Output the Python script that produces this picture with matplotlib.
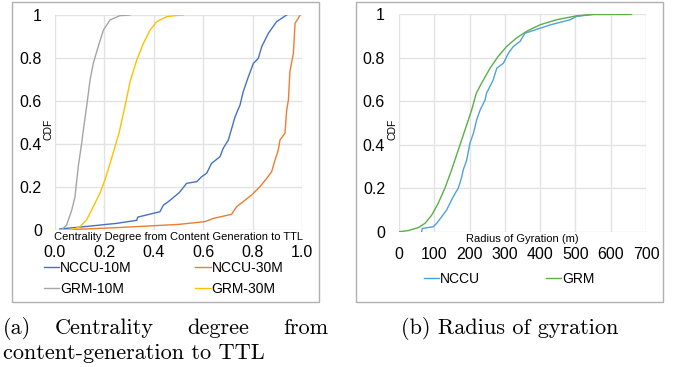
import matplotlib
matplotlib.use("Agg")
import matplotlib.pyplot as plt
from matplotlib.patches import Rectangle

plt.rcParams['font.family'] = ['Liberation Sans', 'DejaVu Sans']

# (a) centrality degree CDFs
nccu10_x = [0.02, 0.115, 0.25, 0.331, 0.335, 0.425, 0.439, 0.459, 0.5, 0.506, 0.533, 0.574, 0.594,
            0.614, 0.634, 0.668, 0.681, 0.702, 0.711, 0.729, 0.749, 0.762, 0.783, 0.803, 0.823,
            0.837, 0.864, 0.897, 0.938]
nccu10_y = [0.005, 0.015, 0.031, 0.045, 0.06, 0.085, 0.116, 0.132, 0.171, 0.178, 0.217, 0.225, 0.248,
            0.264, 0.31, 0.341, 0.38, 0.419, 0.455, 0.527, 0.581, 0.643, 0.713, 0.775, 0.798,
            0.853, 0.915, 0.969, 1.0]
nccu30_x = [0.02, 0.25, 0.5, 0.607, 0.641, 0.715, 0.735, 0.762, 0.796, 0.83, 0.857, 0.877, 0.891,
            0.904, 0.911, 0.931, 0.938, 0.945, 0.951, 0.965, 0.972, 0.985, 0.992]
nccu30_y = [0, 0.011, 0.026, 0.039, 0.054, 0.073, 0.108, 0.132, 0.163, 0.202, 0.24, 0.271, 0.326,
            0.372, 0.419, 0.45, 0.558, 0.605, 0.736, 0.822, 0.962, 0.985, 1.0]
grm10_x = [0.02, 0.027, 0.047, 0.068, 0.081, 0.094, 0.108, 0.113, 0.128, 0.142, 0.155, 0.175, 0.196,
           0.223, 0.263, 0.304]
grm10_y = [0, 0.002, 0.023, 0.093, 0.155, 0.294, 0.403, 0.45, 0.574, 0.698, 0.775, 0.853, 0.93,
           0.977, 0.997, 1.0]
grm30_x = [0.02, 0.06, 0.081, 0.101, 0.128, 0.155, 0.182, 0.202, 0.223, 0.243, 0.26, 0.283, 0.304,
           0.331, 0.358, 0.385, 0.412, 0.452, 0.5, 0.52]
grm30_y = [0, 0.002, 0.006, 0.015, 0.047, 0.108, 0.171, 0.233, 0.31, 0.388, 0.455, 0.574, 0.69,
           0.791, 0.868, 0.93, 0.969, 0.992, 0.999, 1.0]

# (b) radius of gyration CDFs
nccu_x = [64, 66, 97, 107, 121, 135, 149, 159, 168, 178, 182, 192, 201, 211, 220, 230, 244, 248,
          267, 277, 296, 310, 324, 343, 357, 400, 428, 485, 503, 550]
nccu_y = [0, 0.015, 0.023, 0.039, 0.069, 0.1, 0.146, 0.176, 0.2, 0.253, 0.284, 0.33, 0.407, 0.453,
          0.514, 0.56, 0.606, 0.637, 0.698, 0.752, 0.775, 0.821, 0.852, 0.875, 0.913, 0.936, 0.951,
          0.975, 0.99, 1.0]
grm_x = [0, 26, 55, 74, 93, 111, 130, 149, 168, 187, 206, 219, 234, 258, 281, 305, 333, 362, 400,
         447, 503, 550, 659]
grm_y = [0, 0.005, 0.019, 0.039, 0.077, 0.13, 0.2, 0.284, 0.376, 0.468, 0.56, 0.637, 0.683, 0.752,
         0.806, 0.852, 0.891, 0.922, 0.952, 0.975, 0.993, 0.999, 1.0]

cdf_ticks = [0, 0.2, 0.4, 0.6, 0.8, 1]
cdf_labels = ['0', '0.2', '0.4', '0.6', '0.8', '1']
a_ticks = [0, 0.2, 0.4, 0.6, 0.8, 1.0]
a_labels = ['0.0', '0.2', '0.4', '0.6', '0.8', '1.0']
b_ticks = [0, 100, 200, 300, 400, 500, 600, 700]

W, H = 681, 367
fig = plt.figure(figsize=(W / 100, H / 100), dpi=100)


def px_box(x0, y0, x1, y1):
    return [x0 / W, 1 - y1 / H, (x1 - x0) / W, (y1 - y0) / H]


# outer frames
for x0, x1 in [(12, 319), (356, 663)]:
    fig.patches.append(Rectangle((x0 / W, 1 - 302 / H), (x1 - x0) / W, 300 / H,
                                 transform=fig.transFigure, fill=False,
                                 edgecolor='#b0b0b0', lw=1.0))

grid_c = '#e3e3e3'


def style(ax, xticks, xlabels, xlim, xlabel, ypad):
    ax.set_xlim(*xlim)
    ax.set_ylim(0, 1)
    ax.set_xticks(xticks)
    ax.set_xticklabels(xlabels)
    ax.set_yticks(cdf_ticks)
    ax.set_yticklabels(cdf_labels)
    ax.grid(True, color=grid_c, lw=1.0)
    ax.set_axisbelow(True)
    for s in ax.spines.values():
        s.set_visible(False)
    ax.tick_params(axis='x', length=0, pad=11, labelsize=11.5)
    ax.tick_params(axis='y', length=0, pad=ypad, labelsize=11.5)
    ax.text(0.5, -0.01, xlabel, transform=ax.transAxes, ha='center', va='top', fontsize=8)
    ax.text(-0.028, 0.47, 'CDF', transform=ax.transAxes, rotation=90, ha='center',
            va='center', fontsize=7.5)


ax1 = fig.add_axes(px_box(55, 15, 302, 230))
l1, = ax1.plot(nccu10_x, nccu10_y, color='#4472c4', lw=1.0, label='NCCU-10M')
l2, = ax1.plot(nccu30_x, nccu30_y, color='#ed7d31', lw=1.0, label='NCCU-30M')
l3, = ax1.plot(grm10_x, grm10_y, color='#a5a5a5', lw=1.0, label='GRM-10M')
l4, = ax1.plot(grm30_x, grm30_y, color='#ffc000', lw=1.0, label='GRM-30M')
style(ax1, a_ticks, a_labels, (0, 1), 'Centrality Degree from Content Generation to TTL', 9.5)
fig.legend(handles=[l1, l3, l2, l4], ncol=2, loc='upper left',
           bbox_to_anchor=(44 / W, 1 - 261 / H), frameon=False, fontsize=10,
           handlelength=1.1, handletextpad=0.05, columnspacing=4.6, labelspacing=0.5,
           borderpad=0, borderaxespad=0)

ax2 = fig.add_axes(px_box(399, 14.3, 646, 231.7))
m1, = ax2.plot(nccu_x, nccu_y, color='#4ea3dc', lw=1.0, label='NCCU')
m2, = ax2.plot(grm_x, grm_y, color='#5aaf46', lw=1.0, label='GRM')
style(ax2, b_ticks, [str(t) for t in b_ticks], (0, 700), 'Radius of Gyration (m)', 10)
fig.legend(handles=[m1, m2], ncol=2, loc='upper left',
           bbox_to_anchor=(424 / W, 1 - 272 / H), frameon=False, fontsize=10,
           handlelength=1.1, handletextpad=0.05, columnspacing=4.75,
           borderpad=0, borderaxespad=0)

# captions
cap = dict(family=['cmr10', 'DejaVu Serif'], fontsize=16, va='baseline')
fig.text(3 / W, 1 - 334 / H, '(a)', ha='left', **cap)
fig.text(55 / W, 1 - 334 / H, 'Centrality', ha='left', **cap)
fig.text(187 / W, 1 - 334 / H, 'degree', ha='left', **cap)
fig.text(328 / W, 1 - 334 / H, 'from', ha='right', **cap)
fig.text(3 / W, 1 - 359 / H, 'content-generation to TTL', ha='left', **cap)
fig.text(510 / W, 1 - 334 / H, '(b) Radius of gyration', ha='center', **cap)

fig.savefig('out.png', dpi=100)
